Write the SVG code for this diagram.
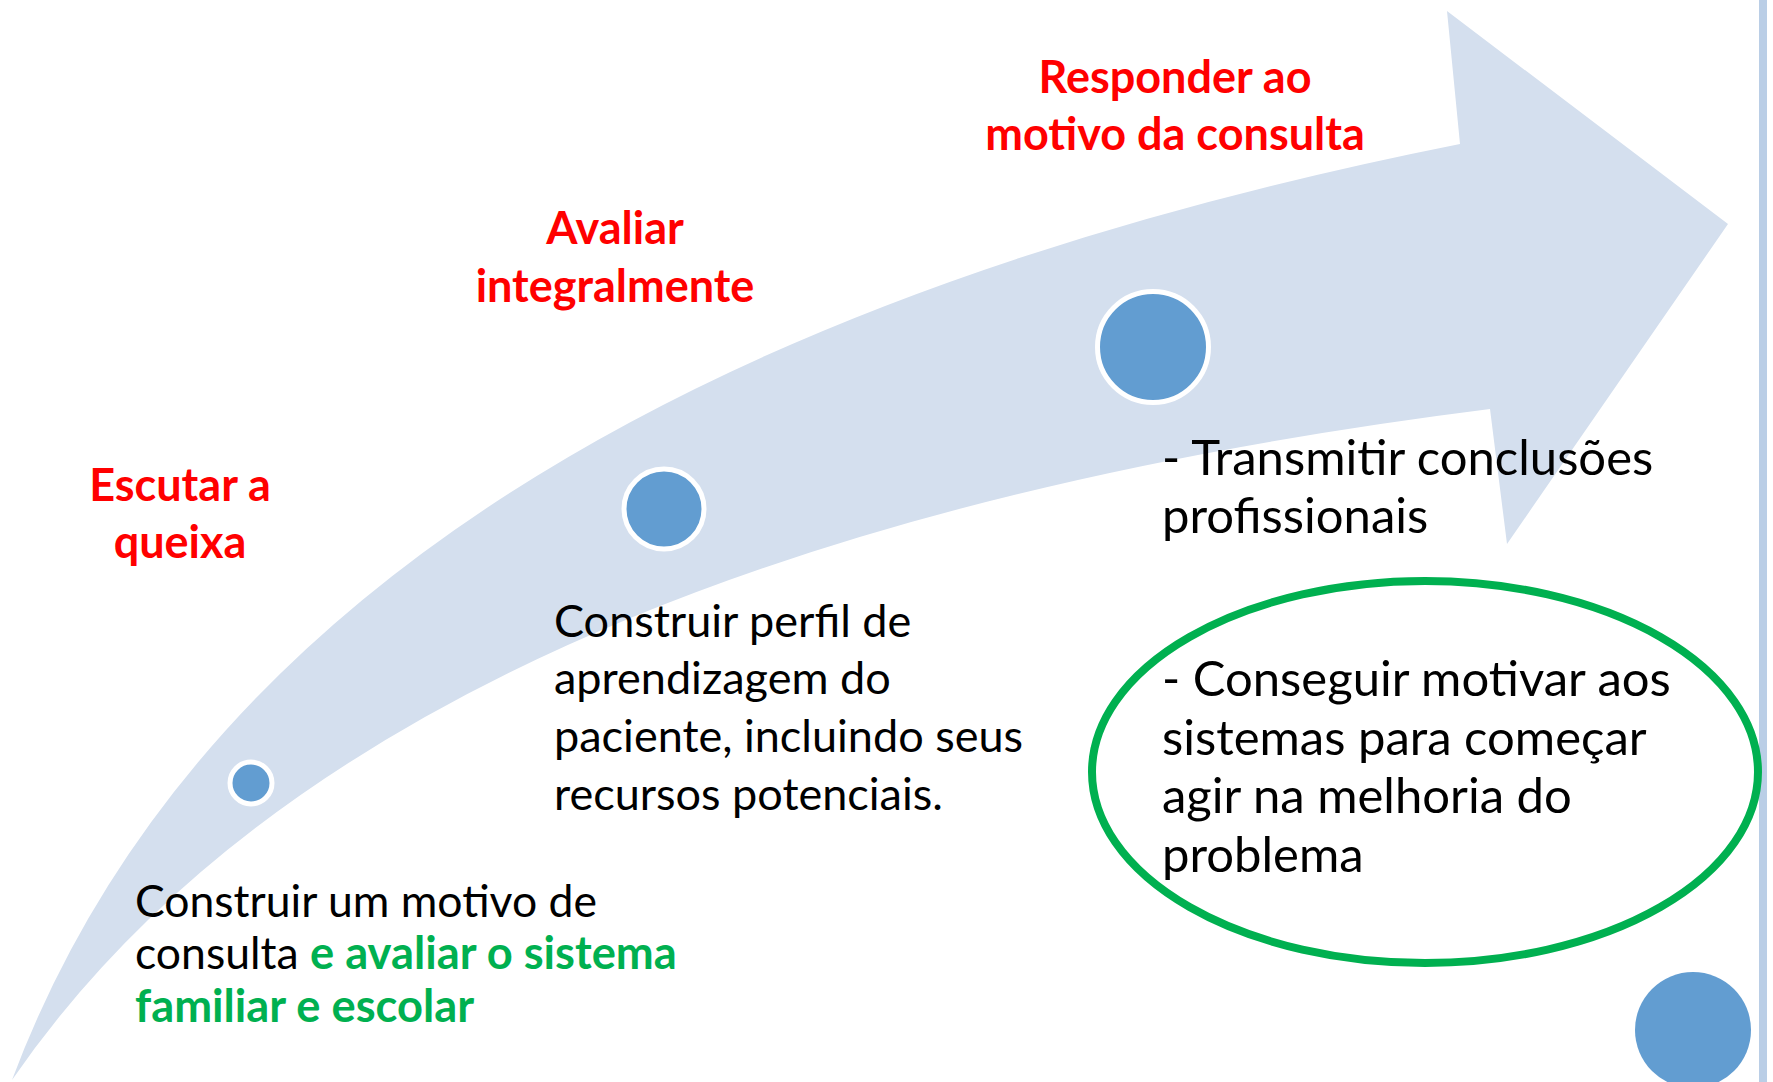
<svg xmlns="http://www.w3.org/2000/svg" width="1773" height="1082" viewBox="0 0 1773 1082">
  <style>
    .band { fill: #D4DFEE; }
    .dot { fill: #629DD1; stroke: #FFFFFF; stroke-width: 5; }
    .red { font-family: Lato, "Liberation Sans", sans-serif; font-weight: bold; fill: #FF0000; font-size: 45px; text-anchor: middle; }
    .body { font-family: Lato, "Liberation Sans", sans-serif; fill: #000000; }
    .grn { font-weight: bold; fill: #00B050; font-size: 45.3px; }
  </style>
  <rect x="0" y="0" width="1773" height="1082" fill="#FFFFFF"/>
  <rect id="edge-line" x="1759" y="0" width="8" height="1082" fill="#BACEE6"/>

  <g id="arrow">
    <path class="band" d="M 12,1080 Q 274,380 1460,144 L 1447,11 L 1728,224 L 1507,544 L 1490,409 Q 377,549 12,1080 Z"/>
  </g>

  <g id="step1">
    <circle class="dot" cx="251" cy="783" r="21"/>
    <text class="red"><tspan x="180" y="501">Escutar a</tspan><tspan x="180" y="558">queixa</tspan></text>
    <text class="body" font-size="44.5"><tspan x="135" y="917">Construir um motivo de</tspan><tspan x="135" y="969">consulta <tspan class="grn">e avaliar o sistema</tspan></tspan><tspan class="grn" x="135" y="1022">familiar e escolar</tspan></text>
  </g>

  <g id="step2">
    <circle class="dot" cx="664" cy="509" r="40"/>
    <text class="red"><tspan x="615" y="244">Avaliar</tspan><tspan x="615" y="302">integralmente</tspan></text>
    <text class="body" font-size="45"><tspan x="554" y="637">Construir perfil de</tspan><tspan x="554" y="694">aprendizagem do</tspan><tspan x="554" y="752">paciente, incluindo seus</tspan><tspan x="554" y="810">recursos potenciais.</tspan></text>
  </g>

  <g id="step3">
    <circle class="dot" cx="1153" cy="347" r="55.5"/>
    <text class="red"><tspan x="1175" y="93">Responder ao</tspan><tspan x="1175" y="150">motivo da consulta</tspan></text>
    <text class="body" font-size="49"><tspan x="1162" y="475">- Transmitir conclusões</tspan><tspan x="1162" y="533">profissionais</tspan></text>
  </g>

  <g id="goal">
    <ellipse cx="1425" cy="772" rx="333" ry="191" fill="none" stroke="#00B050" stroke-width="8"/>
    <text class="body" font-size="49"><tspan x="1162" y="696">- Conseguir motivar aos</tspan><tspan x="1162" y="755">sistemas para começar</tspan><tspan x="1162" y="813">agir na melhoria do</tspan><tspan x="1162" y="872">problema</tspan></text>
  </g>

  <g id="corner-dot">
    <circle cx="1693" cy="1030" r="58" fill="#629DD1"/>
  </g>
</svg>
